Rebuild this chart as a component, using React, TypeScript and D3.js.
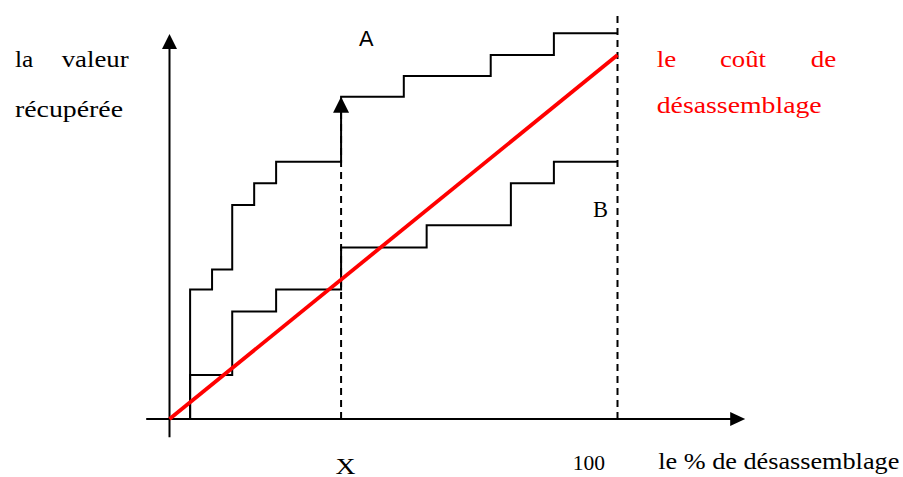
import React from "react";
import * as d3 from "d3";

// x: "le % de désassemblage" (0..100), y: value units (red cost line reaches 100 at x=100)
const stepXA = [4.6, 9.5, 14.0, 18.9, 23.8, 38.3, 52.3, 71.7, 85.8, 100];
const levelsA = [35.6, 41.1, 58.8, 64.8, 70.7, 88.5, 94.2, 100, 106.0];
const stepXB = [4.6, 14.0, 23.8, 38.3, 57.4, 76.2, 85.8, 100];
const levelsB = [12.1, 29.5, 35.6, 47.1, 53.2, 64.8, 70.7];
const costX = [0, 100];
const costY = [0, 100];
const markerX = [38.3, 100];
const markerTop = [88.5, 111.8];
const xTickLabels = ["X", "100"];

const W = 903;
const H = 477;

export default function App() {
  const x = d3.scaleLinear().domain([0, 100]).range([169.5, 617.5]);
  const y = d3.scaleLinear().domain([0, 100]).range([419, 55]);

  const stepPoints = (xs: number[], lv: number[]): [number, number][] => {
    const pts: [number, number][] = [[xs[0], 0]];
    lv.forEach((v, i) => pts.push([xs[i], v]));
    pts.push([xs[xs.length - 1], lv[lv.length - 1]]);
    return pts;
  };
  const stepLine = d3
    .line<[number, number]>()
    .x((d) => x(d[0]))
    .y((d) => y(d[1]))
    .curve(d3.curveStepAfter);
  const straight = d3
    .line<[number, number]>()
    .x((d) => x(d[0]))
    .y((d) => y(d[1]));

  const ax0 = x(-5.2);
  const ax1 = x(128.5);
  const ay0 = y(-5);
  const ay1 = y(105.8);
  const ox = x(0);
  const oy = y(0);

  const serif: React.CSSProperties = {
    fontFamily: '"Liberation Serif", "Times New Roman", Times, serif',
  };

  return (
    <svg
      width={W}
      height={H}
      style={{ position: "absolute", left: 0, top: 0, background: "#fff" }}
    >
      <rect width={W} height={H} fill="#fff" />
      {/* axes */}
      <line x1={ax0} y1={oy} x2={ax1 - 14} y2={oy} stroke="#000" strokeWidth={2} />
      <polygon
        points={`${ax1},${oy} ${ax1 - 15},${oy - 7} ${ax1 - 15},${oy + 7}`}
        fill="#000"
      />
      <line x1={ox} y1={ay0} x2={ox} y2={ay1 + 14} stroke="#000" strokeWidth={2} />
      <polygon
        points={`${ox},${ay1} ${ox - 7.5},${ay1 + 15} ${ox + 7.5},${ay1 + 15}`}
        fill="#000"
      />

      {/* dashed markers */}
      {markerX.map((mx, i) => (
        <line
          key={"m" + i}
          x1={x(mx)}
          y1={oy}
          x2={x(mx)}
          y2={y(markerTop[i]) + (i === 0 ? 14 : 0)}
          stroke="#000"
          strokeWidth={2}
          strokeDasharray="7,5"
        />
      ))}
      <polygon
        points={`${x(markerX[0])},${y(markerTop[0])} ${x(markerX[0]) - 8},${
          y(markerTop[0]) + 16
        } ${x(markerX[0]) + 8},${y(markerTop[0]) + 16}`}
        fill="#000"
      />

      {/* step curves */}
      <path
        d={stepLine(stepPoints(stepXA, levelsA)) || ""}
        fill="none"
        stroke="#000"
        strokeWidth={2}
      />
      <path
        d={stepLine(stepPoints(stepXB, levelsB)) || ""}
        fill="none"
        stroke="#000"
        strokeWidth={2}
      />

      {/* cost line */}
      <path
        d={straight(costX.map((v, i) => [v, costY[i]] as [number, number])) || ""}
        fill="none"
        stroke="#ff0000"
        strokeWidth={3.8}
      />

      {/* labels */}
      <text
        x={359}
        y={46}
        style={{ fontFamily: '"Liberation Sans", Arial, sans-serif' }}
        fontSize={22}
        textLength={14.5}
        lengthAdjust="spacingAndGlyphs"
      >
        A
      </text>
      <text x={593} y={217} style={serif} fontSize={24} textLength={15} lengthAdjust="spacingAndGlyphs">
        B
      </text>

      <g fill="#000" fontSize={24}>
        <text style={serif} x={15} y={67.3} textLength={18.3} lengthAdjust="spacingAndGlyphs">la</text>
        <text style={serif} x={61.7} y={67.3} textLength={67} lengthAdjust="spacingAndGlyphs">valeur</text>
        <text style={serif} x={15} y={117.3} textLength={108} lengthAdjust="spacingAndGlyphs">récupérée</text>
      </g>
      <g fill="#ff0000" fontSize={24}>
        <text style={serif} x={656.7} y={67.3} textLength={19.5} lengthAdjust="spacingAndGlyphs">le</text>
        <text style={serif} x={720} y={67.3} textLength={46} lengthAdjust="spacingAndGlyphs">coût</text>
        <text style={serif} x={810.7} y={67.3} textLength={25.5} lengthAdjust="spacingAndGlyphs">de</text>
        <text style={serif} x={656.7} y={113.3} textLength={165} lengthAdjust="spacingAndGlyphs">désassemblage</text>
      </g>
      <g fill="#000">
        <text style={serif} x={x(markerX[0]) - 5.5} y={474} fontSize={24} textLength={20} lengthAdjust="spacingAndGlyphs">
          {xTickLabels[0]}
        </text>
        <text style={serif} x={572.7} y={470} fontSize={22} textLength={32.3} lengthAdjust="spacingAndGlyphs">
          {xTickLabels[1]}
        </text>
        <text style={serif} x={658.3} y={469.3} fontSize={24} textLength={241} lengthAdjust="spacingAndGlyphs">
          le % de désassemblage
        </text>
      </g>
    </svg>
  );
}
